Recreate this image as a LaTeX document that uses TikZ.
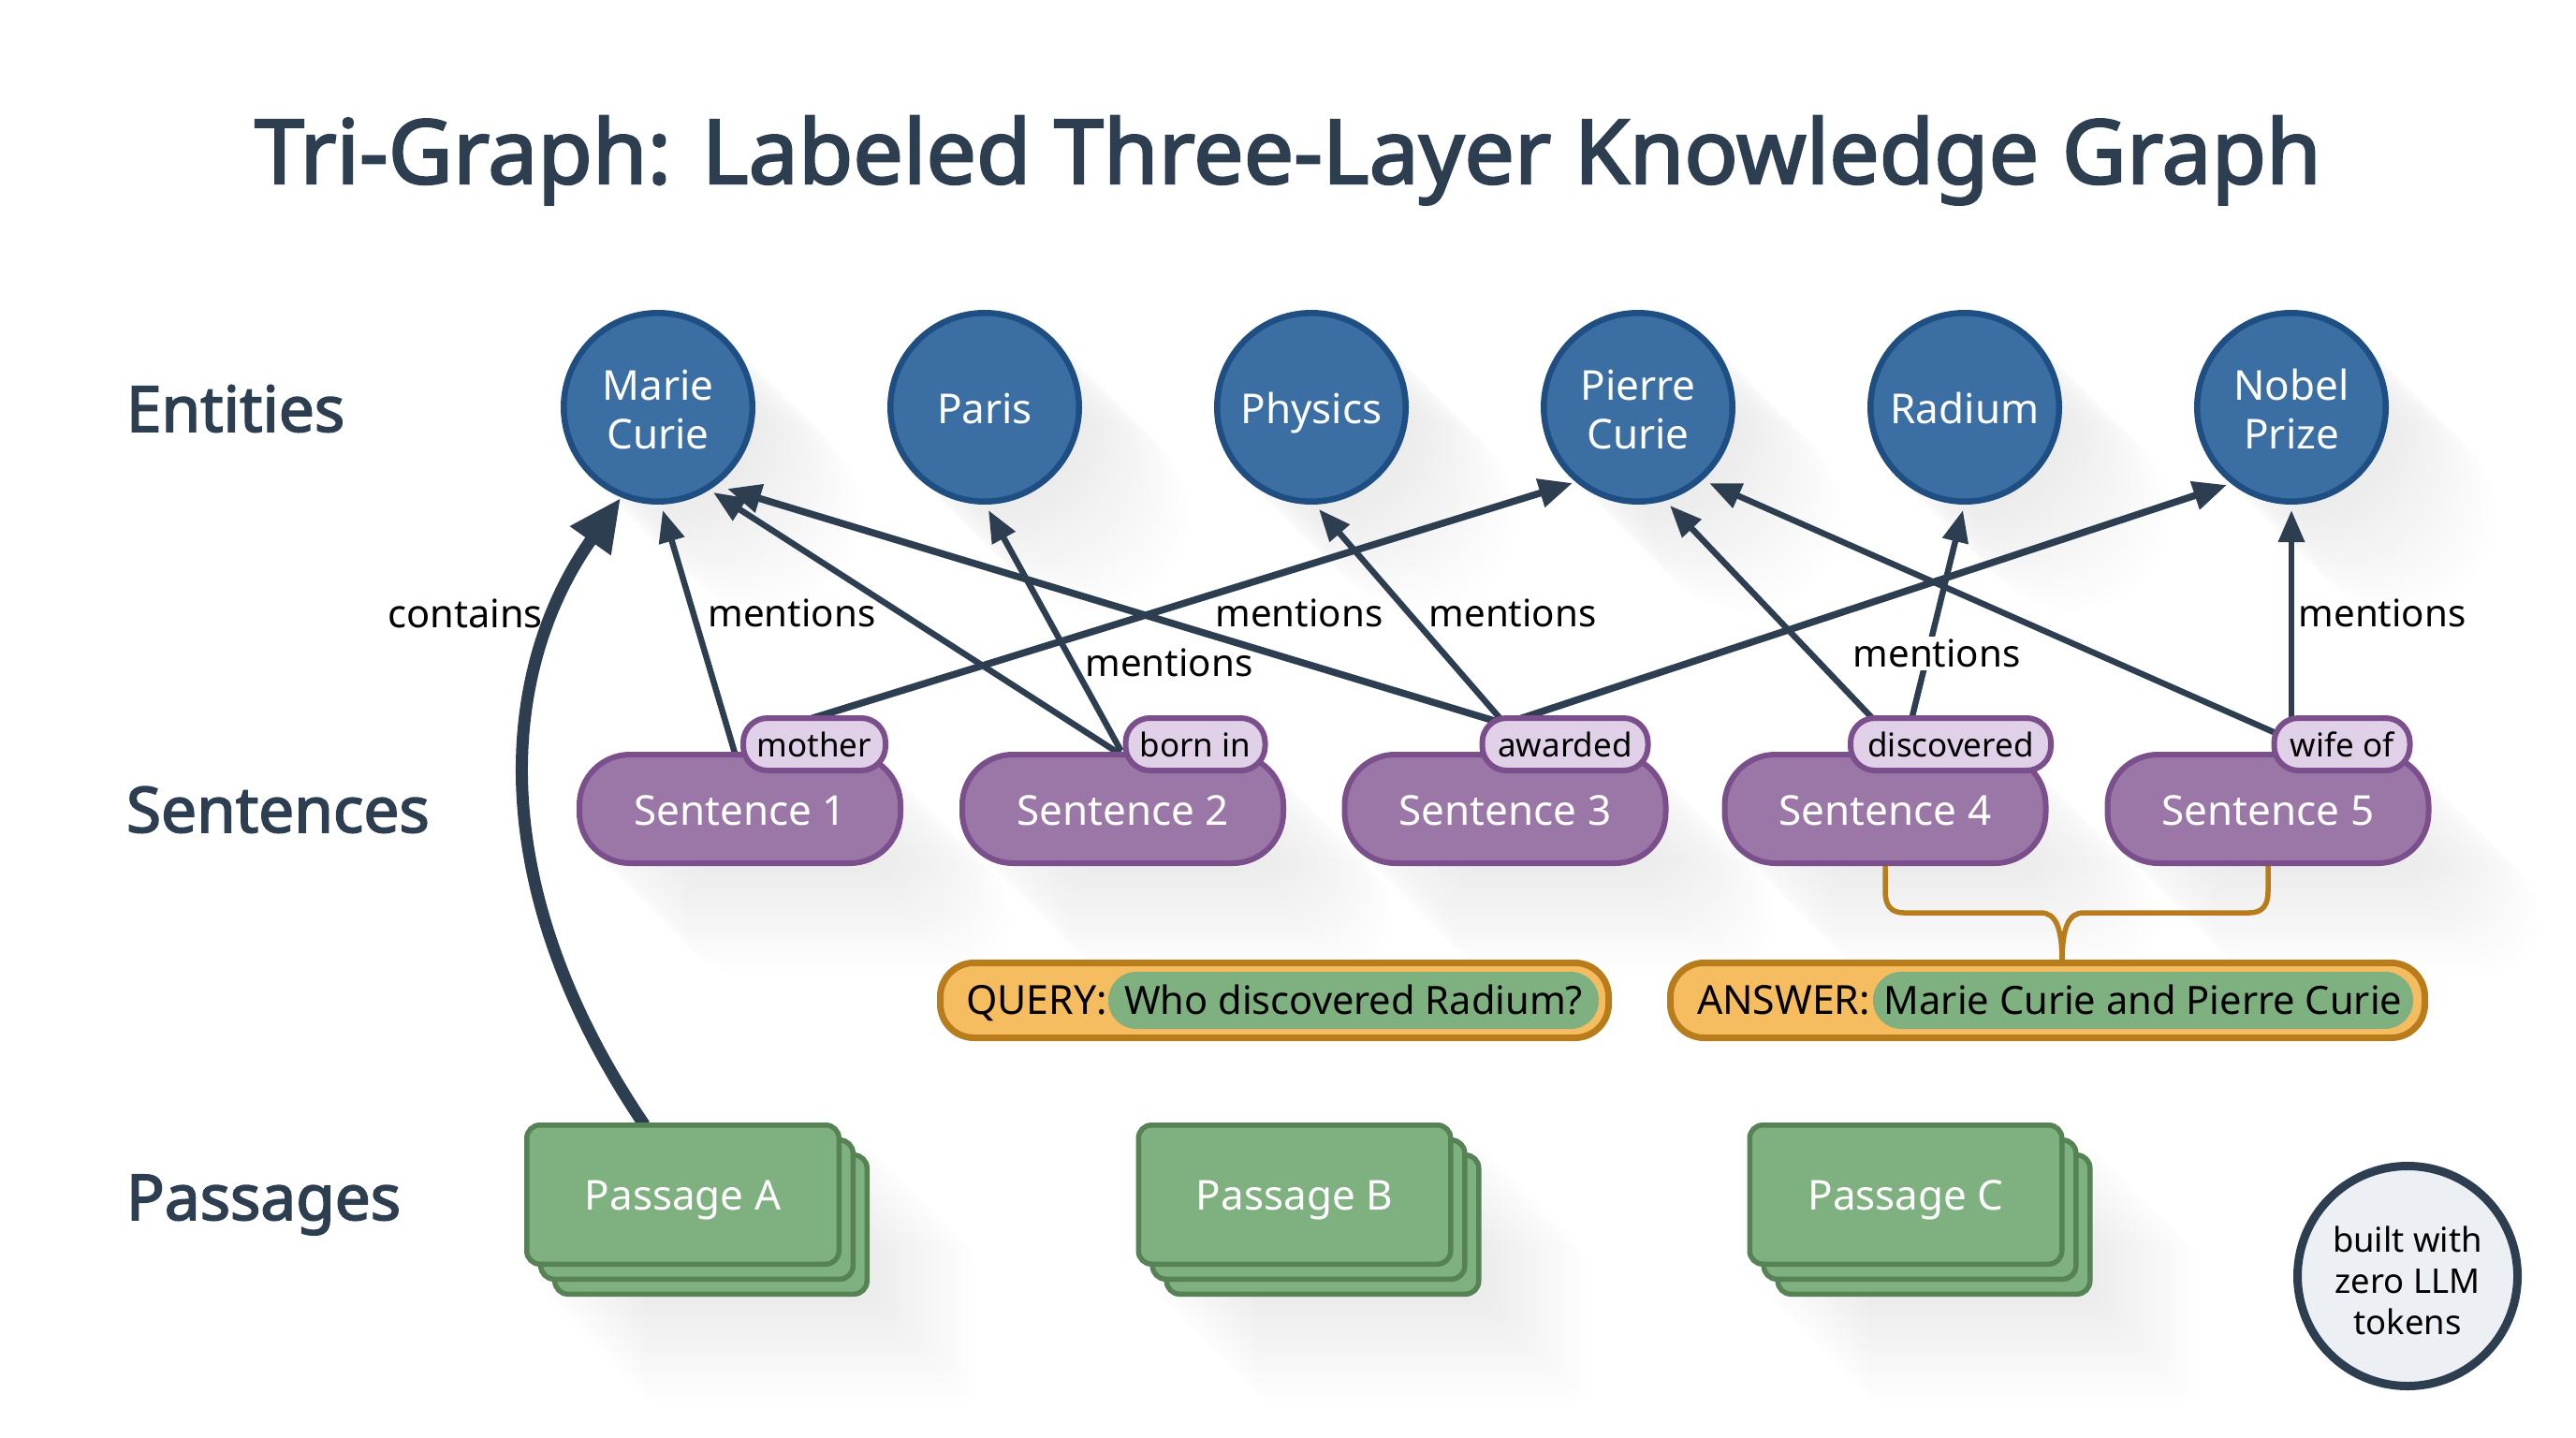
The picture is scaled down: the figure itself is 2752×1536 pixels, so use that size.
\documentclass[tikz,border=0pt]{standalone}
\usepackage{fontspec}
\setmainfont{Noto Sans}
\newfontfamily\headfont[FakeBold=2.5]{Noto Sans}
\usetikzlibrary{arrows.meta}
\definecolor{ink}{HTML}{2C3E50}
\definecolor{blueF}{HTML}{3B6EA3}
\definecolor{blueD}{HTML}{1F4E82}
\definecolor{purF}{HTML}{9B77A8}
\definecolor{purD}{HTML}{7A4F8C}
\definecolor{tagF}{HTML}{E0D0E8}
\definecolor{grnF}{HTML}{7FB07F}
\definecolor{grnD}{HTML}{568256}
\definecolor{orF}{HTML}{F6BD60}
\definecolor{orD}{HTML}{B87D1A}
\definecolor{badgeF}{HTML}{ECEFF4}
\pgfdeclarelayer{shadowlayer}
\pgfdeclarelayer{edgelayer}
\pgfsetlayers{shadowlayer,edgelayer,main}
\newcommand{\softshadow}[1]{\foreach \d in {6,12,...,114}{\begin{scope}[shift={(\d,\d)}]\fill[black,opacity=0.0055] #1;\end{scope}}}
\newcommand{\dropline}{\rule{0pt}{38pt}}
\tikzset{
  x=1pt,y=-1pt,
  every node/.style={inner sep=0pt,outer sep=0pt},
  entity/.style={circle,draw=blueD,fill=blueF,line width=6.5pt,minimum size=201.5pt,text=white,align=center,font=\fontsize{44}{52}\selectfont},
  capsonly/.style={text height=#1,text depth=0pt},
  sentence/.style={rectangle,rounded corners=54pt,draw=purD,fill=purF,line width=6pt,minimum width=343pt,minimum height=116pt,text=white,capsonly=35pt,font=\fontsize{44}{52}\selectfont},
  tagpill/.style={rectangle,rounded corners=26pt,draw=purD,fill=tagF,line width=6pt,minimum height=56pt,text=black,font=\fontsize{35}{42}\selectfont},
  passage/.style={rectangle,rounded corners=14pt,draw=grnD,fill=grnF,line width=5.5pt,minimum width=333.5pt,minimum height=148.5pt,text=white,capsonly=33.5pt,font=\fontsize{44}{52}\selectfont},
  answerbox/.style={rectangle,rounded corners=36pt,draw=orD,fill=orF,line width=7pt,minimum height=80pt},
  greenpill/.style={rectangle,rounded corners=30pt,fill=grnF,minimum height=61pt,text=black,capsonly=30pt,font=\fontsize{41.6}{48}\selectfont},
  boxtext/.style={text=black,capsonly=30pt,font=\fontsize{42.8}{48}\selectfont},
  rowlabel/.style={text=ink,anchor=west,capsonly=48pt,font=\headfont\fontsize{67.5}{76}\selectfont},
  edgelabel/.style={text=black,font=\fontsize{40.3}{48}\selectfont},
  thinedge/.style={draw=ink,line width=6.5pt,-{Triangle[length=34pt,width=27pt]}},
  boldedge/.style={draw=ink,line width=7.5pt,-{Triangle[length=36pt,width=30pt]}},
  bigedge/.style={draw=ink,line width=13pt,-{Triangle[length=56pt,width=50pt]}},
  bracket/.style={draw=orD,line width=5.5pt},
}
\begin{document}
\begin{tikzpicture}
\useasboundingbox (0,0) rectangle (2752,1536);
\begin{pgfonlayer}{shadowlayer}
\fill[white] (0,0) rectangle (2752,1536);
\foreach \c in {703,1052,1401,1750,2099,2448}{\softshadow{(\c,435) circle (104)}}
\foreach \c in {790.5,1199.5,1608,2014,2423}{\softshadow{[rounded corners=55] (\c-174,803) rectangle (\c+174,925)}}
\foreach \c in {729.5,1383,2036}{\softshadow{[rounded corners=16] (\c-155,1215) rectangle (\c+199,1385)}}
\end{pgfonlayer}

\node[text=ink,capsonly=68pt,font=\headfont\fontsize{95}{120}\selectfont] (title) at (1376,162) {Tri-Graph: Labeled Three-Layer Knowledge Graph};
\node[rowlabel] (rowE) at (135,437) {Entities};
\node[rowlabel] (rowS) at (135,865) {Sentences};
\node[rowlabel] (rowP) at (135,1279) {Passages};

\node[entity] (marie) at (703,435) {\dropline Marie\\Curie};
\node[entity,capsonly=35pt] (paris) at (1052,435) {Paris};
\node[entity,capsonly=35pt] (physics) at (1401,435) {Physics};
\node[entity] (pierre) at (1750,435) {\dropline Pierre\\Curie};
\node[entity,capsonly=35pt] (radium) at (2099,435) {Radium};
\node[entity] (nobel) at (2448,435) {\dropline Nobel\\Prize};

\node[sentence] (s1) at (790.5,864) {Sentence 1};
\node[sentence] (s2) at (1199.5,864) {Sentence 2};
\node[sentence] (s3) at (1608,864) {Sentence 3};
\node[sentence] (s4) at (2014,864) {Sentence 4};
\node[sentence] (s5) at (2423,864) {Sentence 5};

\node[tagpill,minimum width=152pt] (t1) at (870,795) {mother};
\node[tagpill,minimum width=149pt] (t2) at (1277,795) {born in};
\node[tagpill,minimum width=177pt] (t3) at (1672,795) {awarded};
\node[tagpill,minimum width=214pt] (t4) at (2084,795) {discovered};
\node[tagpill,minimum width=145pt] (t5) at (2502,795) {wife of};

\node[answerbox,minimum width=714pt] (query) at (1361.5,1068.5) {};
\node[boxtext,anchor=west] (queryword) at (1032,1068.5) {QUERY:};
\node[greenpill,minimum width=524pt] (queryans) at (1446,1068.5) {Who discovered Radium?};
\node[answerbox,minimum width=806pt] (answer) at (2187.5,1068.5) {};
\node[boxtext,anchor=west] (answerword) at (1813,1068.5) {ANSWER:};
\node[greenpill,minimum width=577pt] (answertext) at (2289.5,1068.5) {Marie Curie and Pierre Curie};

\foreach \n/\c in {a/729.5,b/1383,c/2036}{
  \node[passage] (p\n3) at (\c+30,1308) {};
  \node[passage] (p\n2) at (\c+15,1292) {};
}
\node[passage] (pa) at (729.5,1276) {Passage A};
\node[passage] (pb) at (1383,1276) {Passage B};
\node[passage] (pc) at (2036,1276) {Passage C};

\node[circle,draw=ink,fill=badgeF,line width=9pt,minimum size=235pt,align=center,text=black,font=\fontsize{36.4}{44}\selectfont] (badge) at (2572,1363) {\rule{0pt}{37pt}built with\\zero LLM\\tokens};

\begin{pgfonlayer}{edgelayer}
\draw[bigedge] ([shift={(-41,0)}]pa.north) .. controls (518,950) and (530,720) .. ([shift={(-40,97)}]marie.center);
\draw[thinedge] ([shift={(-5,0)}]s1.north) -- ([shift={(5,110)}]marie.center);
\draw[boldedge] ([shift={(-8,2)}]t1.north) -- ([shift={(-70,81)}]pierre.center);
\draw[thinedge] ([shift={(-2,0)}]s2.north) -- ([shift={(59,91)}]marie.center);
\draw[thinedge] ([shift={(-2,-4)}]s2.north) -- ([shift={(4,110)}]paris.center);
\draw[boldedge] ([shift={(-72,4)}]t3.north) -- ([shift={(74,87)}]marie.center);
\draw[thinedge] ([shift={(-68,2)}]t3.north) -- ([shift={(8,109)}]physics.center);
\draw[boldedge] ([shift={(-52,2)}]t3.north) -- ([shift={(-69,83)}]nobel.center);
\draw[thinedge] ([shift={(-82,2)}]t4.north) -- ([shift={(34,105)}]pierre.center);
\draw[thinedge] ([shift={(-42,2)}]t4.north) -- ([shift={(-2,110)}]radium.center);
\draw[thinedge] ([shift={(-73,15)}]t5.north) -- ([shift={(76,81)}]pierre.center);
\draw[thinedge] ([shift={(-54,2)}]t5.north) -- ([shift={(0,110)}]nobel.center);
\draw[bracket] (s4.south) -- (2014,952) .. controls (2014,967) and (2020,975) .. (2034,975) -- (2180,975) .. controls (2196,975) and (2203,990) .. ([shift={(15.5,0)}]answer.north);
\draw[bracket] (s5.south) -- (2423,952) .. controls (2423,967) and (2417,975) .. (2403,975) -- (2226,975) .. controls (2210,975) and (2203,990) .. ([shift={(15.5,0)}]answer.north);
\end{pgfonlayer}

\node[edgelabel,font=\fontsize{41.6}{48}\selectfont] (lcontains) at (497,655) {contains};
\node[edgelabel] (lm1) at (846,655) {mentions};
\node[edgelabel] (lm2) at (1249,708) {mentions};
\node[edgelabel] (lm3) at (1388,655) {mentions};
\node[edgelabel] (lm4) at (1616,655) {mentions};
\node[edgelabel,fill=white,inner sep=3pt] (lm5) at (2069,698) {mentions};
\node[edgelabel] (lm6) at (2545,655) {mentions};
\end{tikzpicture}
\end{document}
